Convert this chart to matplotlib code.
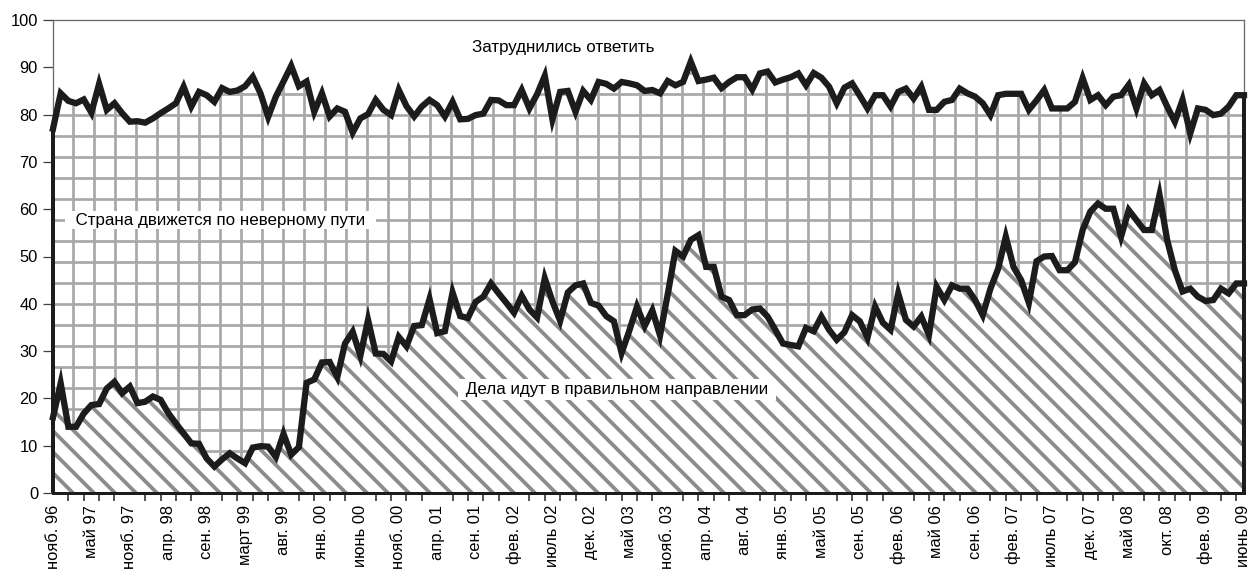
import numpy as np
import matplotlib
matplotlib.use("Agg")
import matplotlib.pyplot as plt

DPI = 252


def px(n):
    # pixels -> points at the figure dpi
    return n * 72.0 / DPI


# "Дела идут в правильном направлении", %
right = [16.0, 23.2, 14.0, 14.0, 16.8, 18.6, 18.8, 22.1, 23.5, 21.1,
         22.5, 19.0, 19.3, 20.4, 19.7, 16.9, 14.7, 12.6, 10.5, 10.4,
         7.3, 5.6, 7.1, 8.4, 7.3, 6.3, 9.6, 9.9, 9.8, 7.6,
         12.5, 8.1, 9.7, 23.3, 24.0, 27.6, 27.7, 24.5, 31.6, 34.1,
         29.0, 36.6, 29.5, 29.4, 27.8, 33.0, 31.0, 35.3, 35.5, 41.0,
         33.8, 34.2, 42.4, 37.4, 37.0, 40.4, 41.5, 44.3, 42.2, 40.2,
         38.1, 41.7, 38.8, 37.1, 45.4, 40.5, 36.4, 42.4, 43.9, 44.3,
         40.2, 39.6, 37.4, 36.3, 29.6, 34.3, 39.4, 35.3, 38.6, 33.3,
         42.0, 51.2, 50.0, 53.5, 54.5, 47.8, 47.8, 41.5, 40.8, 37.6,
         37.6, 38.8, 39.0, 37.3, 34.5, 31.6, 31.3, 31.0, 34.9, 34.2,
         37.3, 34.5, 32.4, 34.0, 37.6, 36.3, 32.8, 39.4, 36.0, 34.5,
         42.2, 36.6, 35.2, 37.3, 33.4, 43.6, 40.8, 43.9, 43.2, 43.2,
         40.8, 37.6, 43.2, 47.4, 54.2, 47.8, 45.0, 40.2, 49.0, 50.0,
         50.1, 47.1, 47.1, 48.8, 55.6, 59.5, 61.2, 60.1, 60.1, 54.2,
         59.8, 57.7, 55.6, 55.6, 63.0, 53.5, 47.1, 42.6, 43.2, 41.5,
         40.6, 40.8, 43.2, 42.2, 44.3, 44.3]

# верхняя граница: правильно + "Страна движется по неверному пути", %
right_wrong = [77.0, 84.5, 82.9, 82.4, 83.2, 80.4, 86.5, 81.0, 82.4, 80.3,
               78.5, 78.6, 78.3, 79.2, 80.3, 81.3, 82.4, 85.9, 81.7, 84.8,
               84.1, 82.7, 85.6, 84.8, 85.1, 86.0, 88.0, 84.5, 79.5, 83.8,
               87.0, 90.3, 86.0, 87.0, 80.6, 84.5, 79.6, 81.3, 80.6, 76.2,
               79.2, 80.1, 83.1, 81.0, 79.9, 85.2, 81.8, 79.6, 81.7, 83.1,
               82.0, 79.6, 82.7, 79.0, 79.1, 79.9, 80.2, 83.1, 83.0, 82.0,
               82.0, 85.2, 81.3, 84.3, 88.2, 79.0, 84.8, 85.0, 80.6, 85.0,
               83.1, 86.9, 86.5, 85.5, 86.9, 86.6, 86.2, 85.0, 85.2, 84.5,
               87.1, 86.2, 86.9, 91.2, 87.1, 87.4, 87.8, 85.6, 86.9, 87.9,
               87.9, 85.3, 88.7, 89.1, 86.8, 87.4, 87.9, 88.7, 86.2, 88.8,
               87.8, 85.9, 82.4, 85.7, 86.6, 84.0, 81.3, 84.1, 84.1, 81.7,
               84.8, 85.5, 83.4, 85.9, 81.0, 81.0, 82.7, 83.1, 85.5, 84.5,
               83.8, 82.4, 79.9, 84.1, 84.4, 84.4, 84.4, 81.0, 83.0, 85.2,
               81.3, 81.3, 81.3, 82.7, 87.7, 83.1, 84.1, 82.0, 83.8, 84.1,
               86.3, 81.3, 86.6, 84.1, 85.2, 81.7, 78.5, 83.1, 76.0, 81.3,
               81.0, 79.9, 80.2, 81.7, 84.1, 84.1]

month_labels = ['нояб. 96', 'май 97', 'нояб. 97', 'апр. 98', 'сен. 98', 'март 99',
                'авг. 99', 'янв. 00', 'июнь 00', 'нояб. 00', 'апр. 01', 'сен. 01',
                'фев. 02', 'июль 02', 'дек. 02', 'май 03', 'нояб. 03', 'апр. 04',
                'авг. 04', 'янв. 05', 'май 05', 'сен. 05', 'фев. 06', 'май 06',
                'сен. 06', 'фев. 07', 'июль 07', 'дек. 07', 'май 08', 'окт. 08',
                'фев. 09', 'июнь 09']

x = np.arange(len(right))
right = np.array(right)
right_wrong = np.array(right_wrong)

plt.rcParams['font.family'] = ['Liberation Sans Narrow', 'Liberation Sans', 'DejaVu Sans']

fig = plt.figure(figsize=(1256 / DPI, 574 / DPI), dpi=DPI)
ax = fig.add_axes([53 / 1256, 1 - 493 / 574, (1244 - 53) / 1256, (493 - 20) / 574])

# hatched areas
plt.rcParams['hatch.linewidth'] = px(3.8)
stripes = ax.fill_between(x, 0, right, facecolor='white', edgecolor='#8c8c8c',
                          hatch='\\\\\\\\', linewidth=0, zorder=1)
if hasattr(stripes, 'set_hatch_linewidth'):
    stripes.set_hatch_linewidth(px(3.8))
plt.rcParams['hatch.linewidth'] = px(2.7)
cross = ax.fill_between(x, right, right_wrong, facecolor='white', edgecolor='#a8a8a8',
                        hatch='++', linewidth=0, zorder=1)
if hasattr(cross, 'set_hatch_linewidth'):
    cross.set_hatch_linewidth(px(2.7))

line_kw = dict(color='#1c1c1c', lw=px(6.3), solid_joinstyle='miter', zorder=4, clip_on=False)
ax.plot(x, right, **line_kw)
ax.plot(x, right_wrong, **line_kw)
ax.vlines([x[0], x[-1]], 0, [right_wrong[0], right_wrong[-1]], color='#1c1c1c',
          lw=px(4), zorder=4, clip_on=False)

ax.set_xlim(x[0], x[-1])
ax.set_ylim(0, 100)

for side in ['top', 'right', 'left']:
    ax.spines[side].set_color('#6a6a6a')
    ax.spines[side].set_linewidth(px(1.3))
ax.spines['bottom'].set_color('#1c1c1c')
ax.spines['bottom'].set_linewidth(px(3))
ax.spines['bottom'].set_zorder(5)

fs = px(16.5)
ax.set_xticks(x[::5])
ax.set_xticklabels(month_labels, rotation=90, fontsize=fs)
ax.set_xticks(x[::2], minor=True)
ax.tick_params(axis='x', which='major', length=0, pad=px(12))
ax.tick_params(axis='x', which='minor', length=px(8), width=px(1.5), color='#1c1c1c')

ax.set_yticks(range(0, 101, 10))
ax.tick_params(axis='y', length=px(10), width=px(1.3), color='#444444', pad=px(5),
               labelsize=fs)

tfs = px(17)
ax.text(66.4, 94.1, 'Затруднились ответить', ha='center', va='center', fontsize=tfs, zorder=6)
ax.text(21.8, 57.7, '  Страна движется по неверному пути  ', ha='center', va='center',
        fontsize=tfs, zorder=6,
        bbox=dict(boxstyle='square,pad=0.08', facecolor='white', edgecolor='none'))
ax.text(73.4, 21.8, ' Дела идут в правильном направлении ', ha='center', va='center',
        fontsize=tfs, zorder=6,
        bbox=dict(boxstyle='square,pad=0.18', facecolor='white', edgecolor='none'))

fig.savefig('out.png', dpi=DPI)
